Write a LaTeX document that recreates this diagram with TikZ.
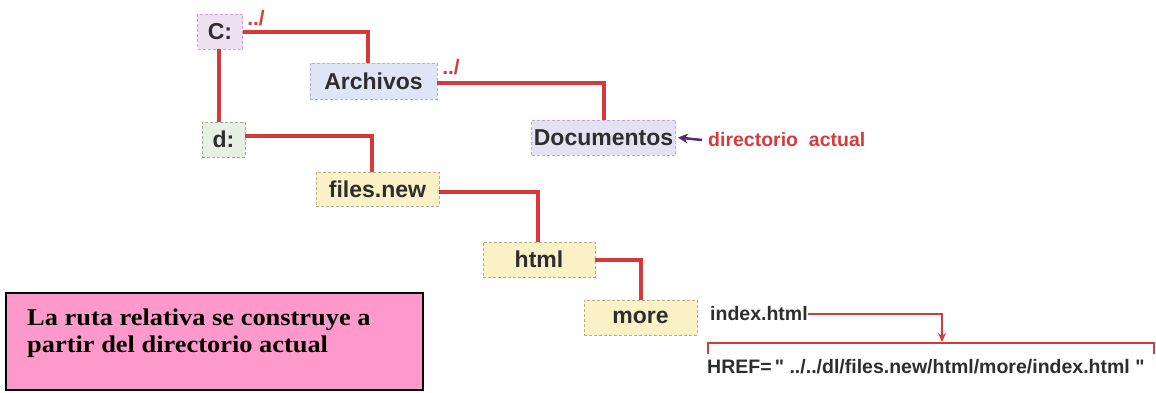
\documentclass[tikz,border=0pt]{standalone}
\usepackage{fontspec}
\setmainfont{Liberation Sans}
\newfontfamily\serifb{Liberation Serif}
\newfontfamily\hreffont{Liberation Sans}[Ligatures=TeXOff]
\usetikzlibrary{arrows.meta,calc}
\definecolor{lnk}{HTML}{D8383A}
\definecolor{txt}{HTML}{2E2E2E}
\definecolor{redtxt}{HTML}{D83A3A}
\definecolor{purp}{HTML}{5A2A70}
\definecolor{cfill}{HTML}{EEE0F2}
\definecolor{cdraw}{HTML}{C9A2D2}
\definecolor{afill}{HTML}{DEE6F6}
\definecolor{adraw}{HTML}{CBA6D0}
\definecolor{dfill}{HTML}{E8F0E4}
\definecolor{ddraw}{HTML}{A8A8A0}
\definecolor{yfill}{HTML}{FBF1C6}
\definecolor{ydraw}{HTML}{B8AE90}
\definecolor{docfill}{HTML}{E4E2F2}
\definecolor{docdraw}{HTML}{C8A8D0}
\definecolor{pinkbg}{HTML}{FF99CC}
\begin{document}
\begin{tikzpicture}[x=1pt,y=-1pt,
  box/.style={draw, densely dashed, line width=0.8pt, inner sep=0pt, anchor=center,
    text=txt, font=\bfseries\fontsize{23}{23}\selectfont},
  link/.style={draw=lnk, line width=4pt},
  up/.style={text=redtxt, inner sep=0pt, font=\bfseries\fontsize{21}{21}\selectfont},
  small/.style={text=txt, inner sep=0pt, anchor=west, font=\bfseries\fontsize{19.5}{19.5}\selectfont},
  thinred/.style={draw=lnk, line width=1.3pt}
]
\useasboundingbox (0,0) rectangle (1156,392);

% folder boxes
\node[box, fill=cfill, draw=cdraw, minimum width=45, minimum height=35] (c) at (220,31.5) {C:};
\node[box, fill=afill, draw=adraw, minimum width=127, minimum height=36] (arch) at (373.5,81) {Archivos};
\node[box, fill=dfill, draw=ddraw, minimum width=43, minimum height=35] (d) at (223.5,139.5) {d:};
\node[box, fill=docfill, draw=docdraw, minimum width=144, minimum height=35] (doc) at (603.5,137.5) {Documentos};
\node[box, fill=yfill, draw=ydraw, minimum width=123, minimum height=34] (fn) at (377.5,189) {files.new};
\node[box, fill=yfill, draw=ydraw, minimum width=112, minimum height=35] (html) at (539,259.5) {html};
\node[box, fill=yfill, draw=ydraw, minimum width=113, minimum height=35] (more) at (640.5,317.5) {more};

% tree connectors
\draw[link] (c.east) -| ([xshift=-5.5pt]arch.north);
\draw[link] ([xshift=-1pt]c.south) -- ([xshift=-1pt]c.south |- d.north);
\draw[link] ([yshift=-2pt]arch.east) -| (doc.north);
\draw[link] ([yshift=3.5pt]d.east) -| ([xshift=-5.5pt]fn.north);
\draw[link] ([yshift=-3pt]fn.east) -| ([xshift=-1pt]html.north);
\draw[link] (html.east) -| (more.north);

% ../ labels
\node[up] (u1) at (256,18) {../};
\node[up] (u2) at (451,67) {../};

% current directory
\node[text=redtxt, inner sep=0pt, anchor=west, font=\bfseries\fontsize{19.5}{19.5}\selectfont] (cur) at (708,140) {directorio\ \ actual};
\draw[purp, line width=2.5pt, -{Stealth[length=10pt,width=10pt]}] ([xshift=-6pt]cur.west) -- ([xshift=2pt]doc.east);

% index.html and HREF
\node[small] (idx) at (710,314) {index.html};
\node[small] (href) at (707,367) {\hreffont HREF=\," ../../dl/files.new/html/more/index.html "};
\coordinate (bm) at (942,343);
\coordinate (bl) at (708,354);
\coordinate (br) at (1154,354);
\draw[thinred] (bl) |- (bm) -| (br);
\draw[thinred, -{Stealth[length=9pt,width=8pt]}] (idx.east) -| ([yshift=1pt]bm);

% note box
\node[draw=black, line width=2pt, fill=pinkbg, minimum width=417, minimum height=97, inner sep=0pt] (note) at (214.5,341.5) {};
\node[anchor=west, inner sep=0pt, align=left, font=\serifb\bfseries\fontsize{24}{27}\selectfont] (notetxt) at (27,333)
  {\scalebox{1.1}[1]{La ruta relativa se construye a}\\\scalebox{1.1}[1]{partir del directorio actual}};
\end{tikzpicture}
\end{document}
